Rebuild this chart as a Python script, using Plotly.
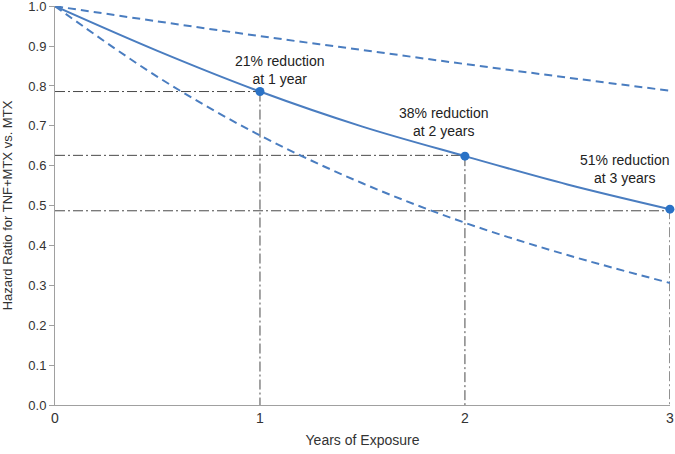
import plotly.graph_objects as go

# Data
years = [0, 0.5, 1, 1.5, 2, 2.5, 3]
hr_estimate = [1.0, 0.888, 0.786, 0.698, 0.624, 0.553, 0.491]
hr_upper = [1.0, 0.962, 0.925, 0.890, 0.855, 0.821, 0.788]
hr_lower = [1.0, 0.823, 0.676, 0.556, 0.457, 0.376, 0.306]

point_years = [1, 2, 3]
point_hr = [0.786, 0.624, 0.491]
ref_levels = [0.786, 0.626, 0.487]
point_labels = ["21% reduction<br>at 1 year", "38% reduction<br>at 2 years", "51% reduction<br>at 3 years"]
label_x = [1.10, 1.90, 2.78]
label_y = [0.841, 0.709, 0.591]

y_ticks = [0.0, 0.1, 0.2, 0.3, 0.4, 0.5, 0.6, 0.7, 0.8, 0.9, 1.0]
x_ticks = [0, 1, 2, 3]

blue = "#4a7dc0"
mark_blue = "#2a72c6"
ref_color = "#4a4a4a"
font = "Liberation Sans, Arial, Helvetica, sans-serif"

fig = go.Figure()

# reference dash-dot lines
for xv, yv in zip(point_years, ref_levels):
    fig.add_trace(go.Scatter(x=[0, xv], y=[yv, yv], mode="lines",
                             line=dict(color=ref_color, width=1, dash="10px,3px,2px,3px"),
                             hoverinfo="skip", showlegend=False, cliponaxis=False))
for xv, yv in zip(point_years, point_hr):
    fig.add_trace(go.Scatter(x=[xv, xv], y=[yv, 0], mode="lines",
                             line=dict(color=ref_color, width=1, dash="10px,3px,2px,3px"),
                             hoverinfo="skip", showlegend=False, cliponaxis=False))

fig.add_trace(go.Scatter(x=years, y=hr_upper, mode="lines",
                         line=dict(color=blue, width=2, dash="8px,5px", shape="spline"),
                         showlegend=False, cliponaxis=False))
fig.add_trace(go.Scatter(x=years, y=hr_lower, mode="lines",
                         line=dict(color=blue, width=2, dash="8px,5px", shape="spline"),
                         showlegend=False, cliponaxis=False))
fig.add_trace(go.Scatter(x=years, y=hr_estimate, mode="lines",
                         line=dict(color=blue, width=2, shape="spline"),
                         showlegend=False, cliponaxis=False))
fig.add_trace(go.Scatter(x=point_years, y=point_hr, mode="markers",
                         marker=dict(color=mark_blue, size=9),
                         showlegend=False, cliponaxis=False))

for tx, ty, txt in zip(label_x, label_y, point_labels):
    fig.add_annotation(x=tx, y=ty, text=txt, showarrow=False,
                       font=dict(family=font, size=14, color="#222222"),
                       xanchor="center", yanchor="middle")

fig.update_layout(
    width=675, height=454,
    margin=dict(l=55, r=5, t=6, b=49, autoexpand=False),
    paper_bgcolor="white", plot_bgcolor="white",
    font=dict(family=font, size=13, color="#333333"),
)
fig.update_xaxes(range=[0, 3.0005], tickvals=x_ticks, ticktext=[str(v) for v in x_ticks],
                 showgrid=False, zeroline=False, showline=True, linecolor="#a0a0a0",
                 linewidth=1, ticks="", automargin=False, ticklabeloverflow="allow",
                 title=dict(text="Years of Exposure", standoff=10,
                            font=dict(size=14, color="#333333")),
                 tickfont=dict(size=14, color="#333333"))
fig.update_yaxes(range=[0, 1.0005], tickvals=y_ticks, ticktext=[f"{v:.1f}" for v in y_ticks],
                 showgrid=False, zeroline=False, showline=True, linecolor="#a0a0a0",
                 linewidth=1, ticks="outside", ticklen=5, tickcolor="#a0a0a0", automargin=False,
                 ticklabeloverflow="allow",
                 title=dict(text="Hazard Ratio for TNF+MTX vs. MTX", standoff=14,
                            font=dict(size=13, color="#333333")),
                 tickfont=dict(size=13, color="#333333"))

fig.write_html("out.html", config={"displayModeBar": False},
               post_script="document.body.style.margin='0';")
